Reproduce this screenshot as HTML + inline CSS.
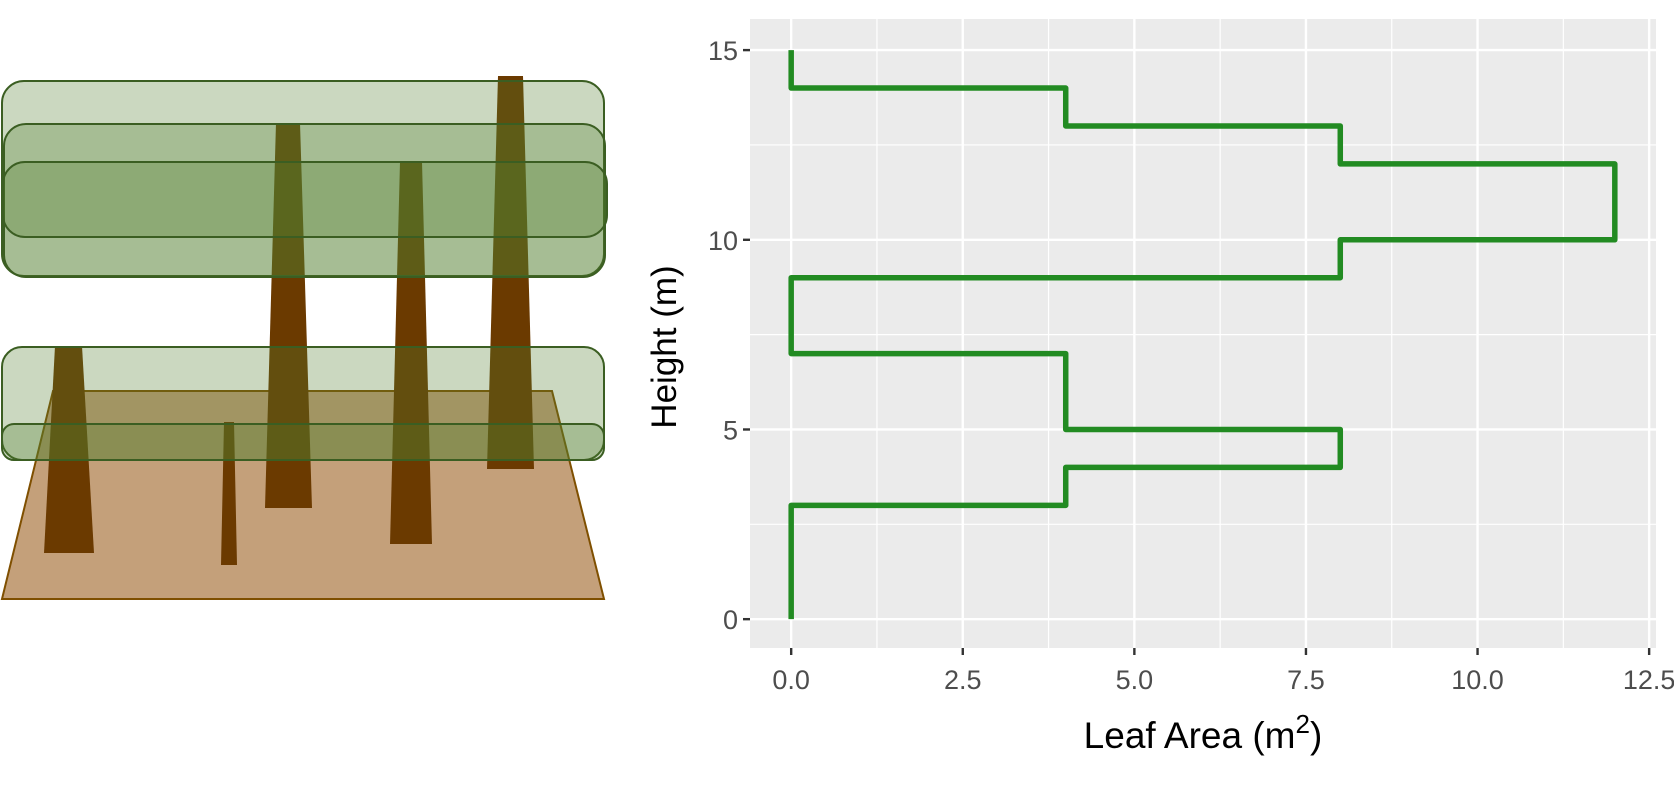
<!DOCTYPE html>
<html><head><meta charset="utf-8"><style>
html,body{margin:0;padding:0;background:#fff;}
svg{display:block;font-family:"Liberation Sans",Arial,sans-serif;}
</style></head><body>
<svg id="root" width="1674" height="785" viewBox="0 0 1674 785">
<g>
  <polygon points="53,391 552,391 604,599 2,599" fill="#c4a07a" stroke="#7f4f00" stroke-width="2"/>
  <polygon points="55,346 82,346 94,553 44,553" fill="#6b3a00"/>
  <polygon points="224,422 234,422 237,565 221,565" fill="#6b3a00"/>
  <polygon points="276,123 300,123 312,508 265,508" fill="#6b3a00"/>
  <polygon points="400,162 422,162 432,544 390,544" fill="#6b3a00"/>
  <polygon points="498,76 523,76 534,469 487,469" fill="#6b3a00"/>
  <g fill="#527d2d" fill-opacity="0.3" stroke="#3b5e22" stroke-width="2">
    <rect x="2" y="81" width="602" height="195" rx="22"/>
    <rect x="4" y="124" width="601" height="153" rx="22"/>
    <rect x="3" y="162" width="604" height="75" rx="22"/>
    <rect x="2" y="347" width="602" height="113" rx="20"/>
    <rect x="2" y="424" width="602" height="36" rx="12"/>
  </g>
</g>
<g id="chart"></g>
</svg>
<script>
const xTicks = [0, 2.5, 5, 7.5, 10, 12.5];
const xTickLabels = ["0.0", "2.5", "5.0", "7.5", "10.0", "12.5"];
const yTicks = [0, 5, 10, 15];
const yTickLabels = ["0", "5", "10", "15"];
const layerBottoms = [0, 3, 4, 5, 7, 9, 10, 12, 13, 14];
const layerTops = [3, 4, 5, 7, 9, 10, 12, 13, 14, 15];
const leafArea = [0, 4, 8, 4, 0, 8, 12, 8, 4, 0];

const NS = "http://www.w3.org/2000/svg";
const P = {l:750, r:1656, t:19, b:648};
const xMin = -0.6, xMax = 12.6, yMin = -0.76, yMax = 15.82;
function sx(v){ return P.l + (v - xMin) / (xMax - xMin) * (P.r - P.l); }
function sy(v){ return P.b - (v - yMin) / (yMax - yMin) * (P.b - P.t); }
const g = document.getElementById('chart');
function mk(tag, attrs, parent){
  const e = document.createElementNS(NS, tag);
  for (const k in attrs) e.setAttribute(k, attrs[k]);
  (parent || g).appendChild(e);
  return e;
}
const bg = mk('rect', {x:P.l, y:P.t, width:P.r-P.l, height:P.b-P.t, fill:'#ebebeb'});


for (let i = 0; i < xTicks.length - 1; i++) {
  const m = (xTicks[i] + xTicks[i+1]) / 2;
  const l = mk('line', {x1:sx(m), x2:sx(m), y1:P.t, y2:P.b, stroke:'#fff', 'stroke-width':1.2});
  
  
}
for (let i = 0; i < yTicks.length - 1; i++) {
  const m = (yTicks[i] + yTicks[i+1]) / 2;
  const l = mk('line', {x1:P.l, x2:P.r, y1:sy(m), y2:sy(m), stroke:'#fff', 'stroke-width':1.2});
  
  
}
xTicks.forEach((v, i) => {
  const l = mk('line', {x1:sx(v), x2:sx(v), y1:P.t, y2:P.b, stroke:'#fff', 'stroke-width':2.4});
  
  
  const t = mk('line', {x1:sx(v), x2:sx(v), y1:P.b, y2:P.b+7, stroke:'#333', 'stroke-width':2.4});
  
  
  const tx = mk('text', {x:sx(v), y:P.b+41, 'text-anchor':'middle', 'font-size':27, fill:'#4d4d4d'});
  tx.textContent = xTickLabels[i];
  
  
});
yTicks.forEach((v, i) => {
  const l = mk('line', {x1:P.l, x2:P.r, y1:sy(v), y2:sy(v), stroke:'#fff', 'stroke-width':2.4});
  
  
  const t = mk('line', {x1:P.l-7, x2:P.l, y1:sy(v), y2:sy(v), stroke:'#333', 'stroke-width':2.4});
  
  
  const tx = mk('text', {x:P.l-12, y:sy(v)+10, 'text-anchor':'end', 'font-size':27, fill:'#4d4d4d'});
  tx.textContent = yTickLabels[i];
  
  
});
let d = '';
leafArea.forEach((a, i) => {
  d += (i === 0 ? 'M' : 'L') + sx(a) + ',' + sy(layerBottoms[i]) + ' L' + sx(a) + ',' + sy(layerTops[i]) + ' ';
});
const path = mk('path', {d:d, fill:'none', stroke:'#228b22', 'stroke-width':5.5, 'stroke-linejoin':'round'});


const xt = mk('text', {x:(P.l+P.r)/2, y:748, 'text-anchor':'middle', 'font-size':37, fill:'#000'});
xt.innerHTML = 'Leaf Area (m<tspan dy="-15" font-size="26">2</tspan><tspan dy="15">)</tspan>';


const yt = mk('text', {x:0, y:0, 'text-anchor':'middle', 'font-size':35, fill:'#000', transform:'translate(676,347) rotate(-90)'});
yt.textContent = 'Height (m)';


</script>
</body></html>
